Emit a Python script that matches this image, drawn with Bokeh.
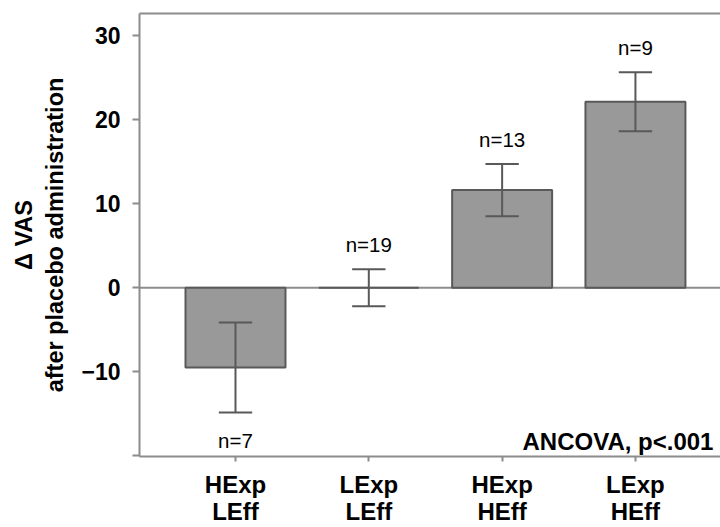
from bokeh.plotting import figure
from bokeh.models import (Range1d, FixedTicker, LinearAxis, Span, Label, ColumnDataSource)
from bokeh.core.properties import value
from bokeh.embed import file_html
from bokeh.resources import INLINE

# ---- data ----
categories = ["HExp\nLEff", "LExp\nLEff", "HExp\nHEff", "LExp\nHEff"]
positions = [1, 2, 3, 4]
means = [-9.5, 0.0, 11.6, 22.1]
errors = [5.35, 2.2, 3.1, 3.5]
n_values = [7, 19, 13, 9]
y_ticks = [-20, -10, 0, 10, 20, 30]
y_label = "\u0394 VAS\nafter placebo administration"
stat_text = "ANCOVA, p<.001"

FONT = "Liberation Sans"
AXIS_COL = "#8c8c8c"
DARK = "#595959"

p = figure(width=720, height=527, output_backend="svg", toolbar_location=None,
           x_range=Range1d(0.28, 4.638), y_range=Range1d(-20.08, 32.6),
           min_border_left=139, min_border_right=0, min_border_top=13,
           min_border_bottom=70)
p.outline_line_color = None
p.grid.visible = False
p.background_fill_color = "white"
p.border_fill_color = "white"

# y axis
ya = p.yaxis[0]
ya.ticker = FixedTicker(ticks=y_ticks)
ya.major_label_overrides = {-20: ""}
ya.major_label_text_font = FONT
ya.major_label_text_font_style = "bold"
ya.major_label_text_font_size = "23px"
ya.major_label_text_color = "black"
ya.major_label_standoff = 12
ya.major_tick_out = 7
ya.major_tick_in = 0
ya.minor_tick_line_color = None
ya.axis_line_color = AXIS_COL
ya.axis_line_width = 2
ya.major_tick_line_color = AXIS_COL
ya.major_tick_line_width = 2
ya.axis_label = y_label
ya.axis_label_text_font = FONT
ya.axis_label_text_font_style = "bold"
ya.axis_label_text_font_size = "23.5px"
ya.axis_label_text_color = "black"
ya.axis_label_standoff = 10

# x axis
xa = p.xaxis[0]
xa.ticker = FixedTicker(ticks=positions)
xa.major_label_overrides = {pos: lab for pos, lab in zip(positions, categories)}
xa.major_label_text_font = FONT
xa.major_label_text_font_style = "bold"
xa.major_label_text_font_size = "24px"
xa.major_label_text_line_height = 1.0
xa.major_label_text_color = "black"
xa.major_label_standoff = 9
xa.major_tick_out = 5
xa.major_tick_in = 0
xa.minor_tick_line_color = None
xa.axis_line_color = AXIS_COL
xa.axis_line_width = 2
xa.major_tick_line_color = AXIS_COL
xa.major_tick_line_width = 2

# top border line
top = LinearAxis(ticker=FixedTicker(ticks=[]), axis_line_color=AXIS_COL, axis_line_width=2,
                 major_tick_line_color=None, minor_tick_line_color=None,
                 major_label_standoff=0, major_tick_out=0)
p.add_layout(top, "above")

# zero line
p.add_layout(Span(location=0, dimension="width", line_color=AXIS_COL, line_width=2,
                  level="underlay"))

# bars
src = ColumnDataSource(dict(x=positions, top=means))
p.vbar(x="x", top="top", bottom=0, width=0.75, source=src,
       fill_color="#999999", line_color=DARK, line_width=2)

# error bars
lo = [m - e for m, e in zip(means, errors)]
hi = [m + e for m, e in zip(means, errors)]
cap = 0.125
p.segment(x0=positions, y0=lo, x1=positions, y1=hi, line_color=DARK, line_width=2)
p.segment(x0=[x - cap for x in positions], y0=lo, x1=[x + cap for x in positions], y1=lo,
          line_color=DARK, line_width=2)
p.segment(x0=[x - cap for x in positions], y0=hi, x1=[x + cap for x in positions], y1=hi,
          line_color=DARK, line_width=2)

# n labels
up_x = [x for x, m in zip(positions, means) if m >= 0]
up_y = [h for h, m in zip(hi, means) if m >= 0]
up_t = ["n=%d" % n for n, m in zip(n_values, means) if m >= 0]
dn_x = [x for x, m in zip(positions, means) if m < 0]
dn_y = [l for l, m in zip(lo, means) if m < 0]
dn_t = ["n=%d" % n for n, m in zip(n_values, means) if m < 0]
p.text(x=up_x, y=up_y, text=up_t, text_align="center", text_baseline="bottom",
       y_offset=-13, text_font=value(FONT), text_font_size="20.5px", text_color="black")
p.text(x=dn_x, y=dn_y, text=dn_t, text_align="center", text_baseline="top",
       y_offset=16, text_font=value(FONT), text_font_size="20.5px", text_color="black")

# stat annotation
p.add_layout(Label(x=4.585, y=-18.27, text=stat_text, text_align="right",
                   text_baseline="alphabetic", text_font=FONT, text_font_style="bold",
                   text_font_size="24px", text_color="black"))

open("out.html", "w").write(file_html(p, INLINE))
